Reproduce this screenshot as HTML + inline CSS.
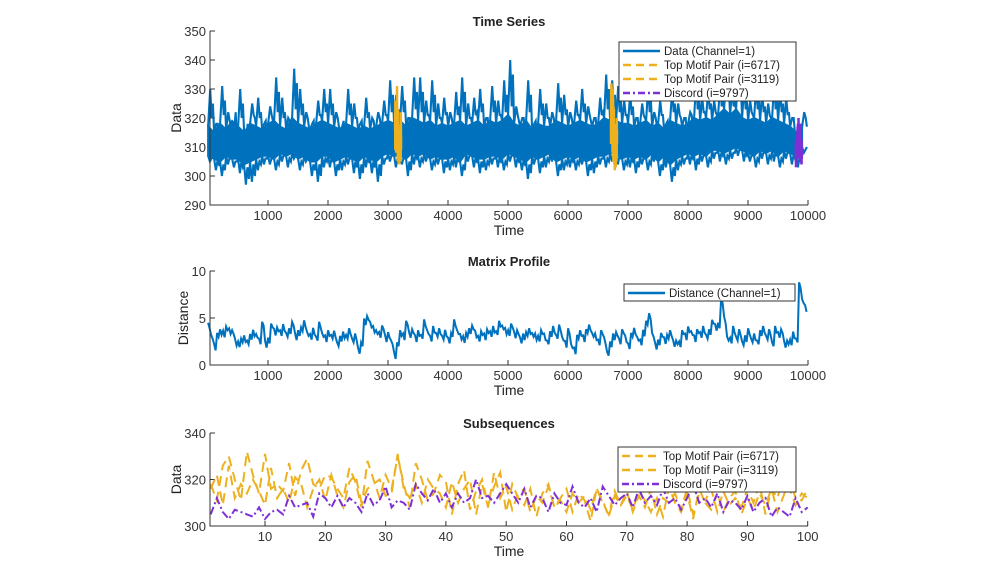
<!DOCTYPE html>
<html><head><meta charset="utf-8"><style>
html,body{margin:0;padding:0;background:#fff;}
svg{display:block;font-family:"Liberation Sans",Arial,sans-serif;}
</style></head><body>
<svg id="c" width="1000" height="562" viewBox="0 0 1000 562" xmlns="http://www.w3.org/2000/svg"></svg>
<script>
const upperEnv=[330,318,331,322,316,330,312,325,327,318,
324,334,327,320,337,330,322,318,326,330,
330,322,317,330,325,318,327,320,322,326,
333,328,331,320,334,334,326,333,325,327,
322,329,334,325,327,330,320,331,326,333,
340,324,320,333,318,330,325,322,332,328,
322,326,330,324,320,327,335,333,331,326,
329,320,325,331,322,326,318,330,325,320,
322,333,327,330,326,332,335,330,336,331,
326,331,329,325,332,330,327,320,316,322];
const lowerEnv=[305,302,300,304,303,301,297,298,302,304,
304,302,305,303,306,302,305,300,298,303,
303,300,302,304,301,299,303,301,298,304,
305,303,304,300,304,303,305,302,304,301,
302,303,300,305,303,301,302,304,303,302,
305,303,302,299,304,301,303,305,300,302,
303,302,304,300,301,304,303,305,304,302,
303,301,304,302,305,300,303,298,302,304,
304,302,305,303,306,305,304,306,307,305,
305,303,306,304,305,303,306,304,303,308];
const midHigh=[317,315,318,316,319,317,315,318,317,316,
318,319,317,316,320,318,317,316,318,319,
318,317,316,318,317,316,317,316,317,318,
319,318,319,317,320,319,318,319,317,318,
317,318,319,317,318,319,317,319,318,319,
321,318,317,319,316,318,317,317,319,318,
317,318,319,318,317,318,320,319,319,318,
318,317,318,319,317,318,316,319,318,317,
318,320,319,320,319,321,323,321,323,320,
319,320,319,318,320,319,318,317,315,317];
const midLow=[307,306,305,307,306,306,304,305,306,307,
307,306,308,307,308,306,307,305,305,307,
307,305,306,307,306,305,307,306,305,307,
308,307,307,306,308,307,308,306,307,306,
306,307,305,308,307,306,306,307,307,306,
308,307,306,305,307,306,307,308,305,306,
307,306,307,305,306,307,307,308,308,306,
307,306,307,306,308,305,307,304,306,307,
308,307,308,307,309,309,308,309,310,309,
308,307,309,308,309,307,309,308,307,310];
const mpData=[4.2,3.0,1.9,3.2,3.5,3.3,3.9,3.6,3.5,2.4,2.2,2.6,2.8,2.4,3.0,3.4,3.1,2.5,4.4,2.2,
2.6,4.2,3.5,3.8,3.4,4.0,3.2,3.6,4.4,3.0,3.4,3.8,4.4,3.3,3.0,3.6,2.8,4.3,3.2,2.8,
3.4,3.0,3.3,2.2,2.8,3.2,3.0,3.6,2.6,3.0,1.5,2.2,4.6,5.0,4.3,3.8,3.5,3.2,4.0,2.8,
3.2,2.4,1.0,2.2,3.4,3.0,4.5,3.2,3.6,2.8,3.4,3.0,4.5,3.5,2.8,3.8,3.2,3.6,2.9,3.4,
2.6,3.2,4.5,3.5,3.0,2.7,3.2,3.6,4.0,3.3,2.8,3.4,3.0,3.6,3.3,3.8,3.4,4.4,4.0,3.6,
3.4,4.2,3.2,3.5,2.6,3.0,3.3,3.6,3.2,3.0,2.8,3.5,3.0,2.4,3.3,3.8,3.0,4.0,2.8,2.2,
3.6,2.0,1.5,3.0,3.4,2.8,3.6,4.0,3.2,3.0,2.4,3.5,2.6,1.2,2.2,3.0,3.3,2.5,3.6,2.8,
2.0,3.2,3.6,2.8,2.4,3.4,4.5,5.2,3.2,2.0,2.4,3.2,2.6,3.0,3.4,2.3,2.4,2.2,3.5,3.0,
3.8,3.4,2.8,3.6,3.2,3.8,3.0,3.5,4.6,4.0,4.2,6.8,4.8,2.8,2.6,3.8,2.8,3.5,2.3,2.8,
3.6,2.6,3.0,2.4,3.4,3.8,2.9,3.5,2.2,3.8,3.2,3.6,2.2,2.4,2.4,3.2,2.6,8.5,6.8,6.0];
const mpNoise=[0.3,0.2,0.35,0.2,0.3,0.35,0.2,0.3,0.2,0.35];
const motifA=[318,311,326,330,320,311,332,322,314,331,316,318,315,327,313,324,329,318,316,322,
321,316,312,325,319,308,328,320,312,322,316,330,318,308,327,320,311,314,322,319,
305,318,324,307,315,320,309,317,323,306,318,312,309,316,304,314,318,308,312,316,
306,314,311,302,316,310,305,315,309,313,307,315,311,306,312,304,317,310,306,314,
303,316,310,307,314,306,312,315,305,312,307,314,309,316,306,313,320,312,311,316];
const motifB=[316,322,309,326,312,318,314,320,315,309,325,312,316,310,321,318,308,316,320,311,
322,313,308,319,322,310,316,318,320,313,314,331,316,312,318,310,320,316,314,308,
319,310,316,320,305,318,308,323,312,317,307,314,316,306,313,310,317,308,311,306,
314,310,313,307,316,311,304,313,309,315,306,313,308,316,305,312,310,314,307,316,
305,314,311,316,306,315,309,312,308,316,310,318,305,316,312,322,316,309,314,312];
const discord=[305,312,306,303,307,306,305,304,308,303,306,307,305,313,308,309,310,304,314,312,
308,313,308,312,310,306,314,309,311,317,308,311,310,307,318,314,311,316,310,314,
308,314,310,312,320,312,313,310,314,318,314,310,316,308,313,312,306,314,310,309,
317,310,308,312,306,317,313,309,312,314,308,316,310,313,309,316,310,312,307,312,
318,310,312,308,314,306,311,310,307,313,306,310,312,304,308,306,304,312,306,308];
const motifAIdx=6717, motifBIdx=3119, discordIdx=9797;
const timeTicks=[1000,2000,3000,4000,5000,6000,7000,8000,9000,10000];
const dataTicks=[290,300,310,320,330,340,350];
const distTicks=[0,5,10];
const subXTicks=[10,20,30,40,50,60,70,80,90,100];
const subYTicks=[300,320,340];

const NS="http://www.w3.org/2000/svg";
const svg=document.getElementById('c');
function mk(tag,attrs,parent){const e=document.createElementNS(NS,tag);for(const k in attrs)e.setAttribute(k,attrs[k]);(parent||svg).appendChild(e);return e;}
const BLUE="#0072BD",ORANGE="#EDB120",PURPLE="#7E2FD6";
const X0=210,X1=808;
const xT=t=>208+t*0.06;
const xS=i=>204.7+i*6.03;

function axes(name,yTop,yBot,yMin,yMax,yt,xt,xf,title,ylabel){
  const g=mk('g',{});
  
  
  const yf=v=>yBot-(v-yMin)/(yMax-yMin)*(yBot-yTop);
  const t=mk('text',{x:509,y:yTop-5,'text-anchor':'middle','font-size':13,'font-weight':'bold',fill:'#222'},g);t.textContent=title;
  
  const yl=mk('text',{x:0,y:0,transform:`translate(${name==='matrix-profile-axes'?188:181},${(yTop+yBot)/2}) rotate(-90)`,'text-anchor':'middle','font-size':14,fill:'#222'},g);yl.textContent=ylabel;
  
  const xl=mk('text',{x:509,y:yBot+30,'text-anchor':'middle','font-size':14,fill:'#222'},g);xl.textContent='Time';
  
  yt.forEach(v=>{const y=yf(v);mk('line',{x1:X0,x2:X0+5,y1:y,y2:y,stroke:'#333'},g);
    const tx=mk('text',{x:X0-4,y:y+5,'text-anchor':'end','font-size':13,fill:'#333'},g);tx.textContent=v;
    });
  xt.forEach(v=>{const x=xf(v);mk('line',{x1:x,x2:x,y1:yBot,y2:yBot-5,stroke:'#333'},g);
    const tx=mk('text',{x:x,y:yBot+15,'text-anchor':'middle','font-size':13,fill:'#333'},g);tx.textContent=v;
    });
  return yf;
}
function poly(pts,color,w,dash,name){
  const p=mk('polyline',{points:pts.map(p=>p[0].toFixed(1)+','+p[1].toFixed(1)).join(' '),fill:'none',stroke:color,'stroke-width':w,'stroke-linejoin':'miter'});
  if(dash)p.setAttribute('stroke-dasharray',dash);
  
  
  return p;
}
function frame(yTop,yBot){mk('path',{d:`M${X0},${yTop}V${yBot}H${X1}`,fill:'none',stroke:'#333','stroke-width':1});}
function legend(name,x,y,w,items){
  const g=mk('g',{});
  
  
  mk('rect',{x:x,y:y,width:w,height:items.length*14+3,fill:'#fff',stroke:'#333','stroke-width':1},g);
  items.forEach((it,i)=>{const yy=y+9+i*14;
    const l=mk('line',{x1:x+4,x2:x+41,y1:yy,y2:yy,stroke:it[1],'stroke-width':2.5},g);
    if(it[2])l.setAttribute('stroke-dasharray',it[2]);
    const t=mk('text',{x:x+45,y:yy+4,'font-size':11.5,fill:'#222'},g);t.textContent=it[0];
    });
}

// Top: time series
const y1=axes('time-series-axes',31,205,290,350,dataTicks,timeTicks,xT,'Time Series','Data');
const tStep=100;
const mh=midHigh.map((v,i)=>[xT(1+i*tStep),y1(v)]);
const ml=midLow.map((v,i)=>[xT(1+i*tStep),y1(v)]);
const core=mk('polygon',{points:mh.concat(ml.slice().reverse()).map(p=>p[0].toFixed(1)+','+p[1].toFixed(1)).join(' '),fill:BLUE,stroke:BLUE,'stroke-width':2});


const upZig=[];upperEnv.forEach((v,i)=>{upZig.push([xT(1+i*tStep),y1(midHigh[i])]);upZig.push([xT(1+i*tStep+35),y1(v)]);upZig.push([xT(1+i*tStep+60),y1(midHigh[i]+3)]);upZig.push([xT(1+i*tStep+80),y1(v-5)]);});
poly(upZig,BLUE,2.1,null,'data-series-upper-spikes');
const loZig=[];lowerEnv.forEach((v,i)=>{loZig.push([xT(1+i*tStep),y1(midLow[i])]);loZig.push([xT(1+i*tStep+30),y1(v)]);loZig.push([xT(1+i*tStep+55),y1(midLow[i]-1)]);loZig.push([xT(1+i*tStep+80),y1(v+2)]);});
poly(loZig,BLUE,2.1,null,'data-series-lower-spikes');
poly(motifB.map((v,i)=>[xT(motifBIdx+i),y1(v)]),ORANGE,2.5,null,'motif-3119-highlight');
poly(motifA.map((v,i)=>[xT(motifAIdx+i),y1(v)]),ORANGE,2.5,null,'motif-6717-highlight');
poly(discord.map((v,i)=>[xT(discordIdx+i),y1(v)]),PURPLE,2.5,null,'discord-highlight');
frame(31,205);
legend('time-series-legend',619,42,177,[['Data (Channel=1)',BLUE,null],['Top Motif Pair (i=6717)',ORANGE,'8,5'],['Top Motif Pair (i=3119)',ORANGE,'8,5'],['Discord (i=9797)',PURPLE,'7,3,2,3']]);

// Middle: matrix profile
const y2=axes('matrix-profile-axes',271,365,0,10,distTicks,timeTicks,xT,'Matrix Profile','Distance');
const mpPts=[];mpData.forEach((v,i)=>{const n=mpNoise[i%mpNoise.length];mpPts.push([xT(1+i*50),y2(v+n)]);mpPts.push([xT(26+i*50),y2(v-n)]);});
poly(mpPts,BLUE,2,null,'distance-line');
frame(271,365);
legend('matrix-profile-legend',624,284,171,[['Distance (Channel=1)',BLUE,null]]);

// Bottom: subsequences
const y3=axes('subsequences-axes',433,526,300,340,subYTicks,subXTicks,xS,'Subsequences','Data');
poly(motifA.map((v,i)=>[xS(i+1),y3(v)]),ORANGE,2,'10,6','motif-6717-line');
poly(motifB.map((v,i)=>[xS(i+1),y3(v)]),ORANGE,2,'10,6','motif-3119-line');
poly(discord.map((v,i)=>[xS(i+1),y3(v)]),PURPLE,2,'8,3,2,3','discord-line');
frame(433,526);
legend('subsequences-legend',618,447,178,[['Top Motif Pair (i=6717)',ORANGE,'8,5'],['Top Motif Pair (i=3119)',ORANGE,'8,5'],['Discord (i=9797)',PURPLE,'7,3,2,3']]);
</script>
</body></html>
